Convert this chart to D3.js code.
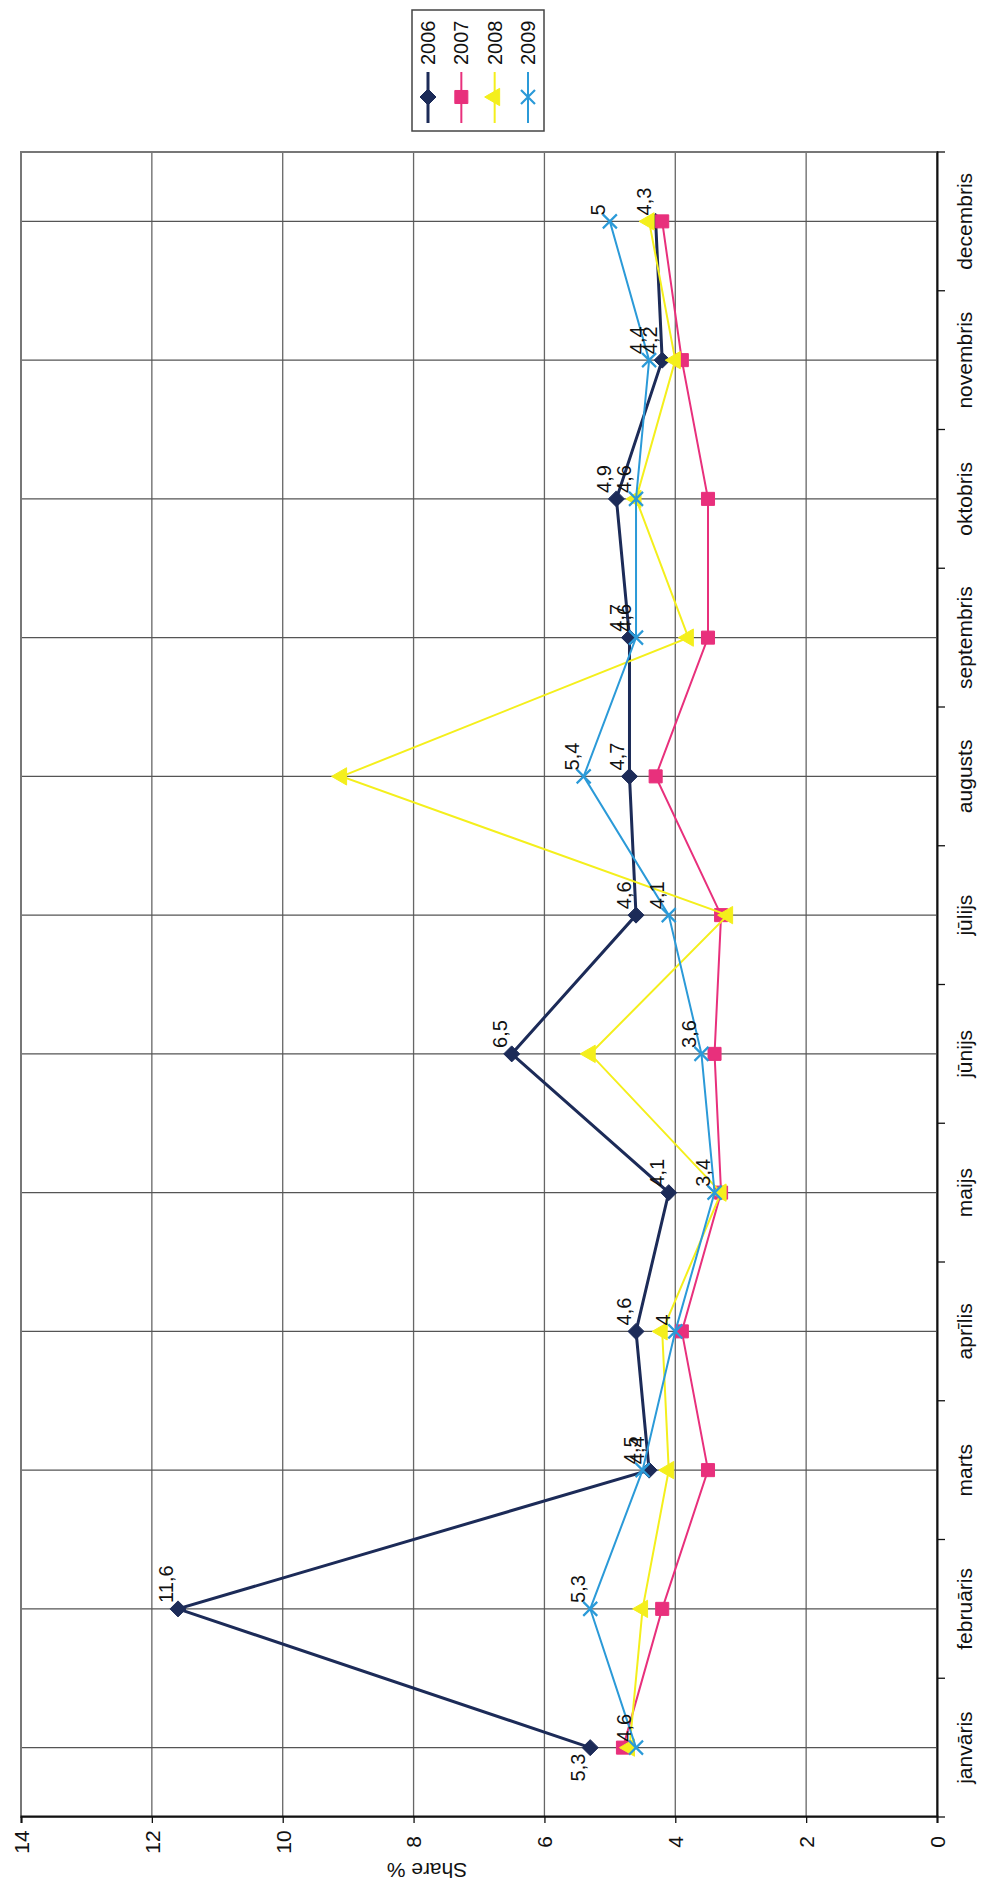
<!DOCTYPE html>
<html>
<head>
<meta charset="utf-8">
<script src="https://cdn.jsdelivr.net/npm/d3@7"></script>
<style>
body { margin: 0; background: #fff; }
text { font-family: "Liberation Sans", Arial, sans-serif; fill: #111; }
</style>
</head>
<body>
<svg id="chart" width="982" height="1891"></svg>
<script>
// Chart data
let months = ['janvāris', 'februāris', 'marts', 'aprīlis', 'maijs', 'jūnijs',
    'jūlijs', 'augusts', 'septembris', 'oktobris', 'novembris', 'decembris'];
let years = ['2006', '2007', '2008', '2009'];
let values2006 = [5.3, 11.6, 4.4, 4.6, 4.1, 6.5, 4.6, 4.7, 4.7, 4.9, 4.2, 4.3];
let values2007 = [4.8, 4.2, 3.5, 3.9, 3.3, 3.4, 3.3, 4.3, 3.5, 3.5, 3.9, 4.2];
let values2008 = [4.7, 4.5, 4.1, 4.2, 3.3, 5.3, 3.2, 9.1, 3.8, 4.6, 4.0, 4.4];
let values2009 = [4.6, 5.3, 4.5, 4.0, 3.4, 3.6, 4.1, 5.4, 4.6, 4.6, 4.4, 5.0];
let labelledYears = ['2006', '2009'];
let valueTicks = [0, 2, 4, 6, 8, 10, 12, 14];
let axisTitle = 'Share %';

let seriesValues = { '2006': values2006, '2007': values2007, '2008': values2008, '2009': values2009 };
let colors = { '2006': '#1c2b58', '2007': '#e8307c', '2008': '#f4ef1c', '2009': '#2b9ad8' };
let widths = { '2006': 3, '2007': 2, '2008': 2, '2009': 2 };

// Plot area on the page (the chart is drawn turned a quarter turn)
let plotLeft = 21, plotRight = 937, plotTop = 152, plotBottom = 1817;
let W = plotBottom - plotTop;
let H = plotRight - plotLeft;

let svg = d3.select('#chart');
let g = svg.append('g')
    .attr('transform', 'translate(' + plotLeft + ',' + plotBottom + ') rotate(-90)');

let x = d3.scaleBand().domain(months).range([0, W]);
let cx = (m) => x(m) + x.bandwidth() / 2;
let y = d3.scaleLinear().domain([0, 14]).range([H, 0]);

// Gridlines
g.selectAll('.vgrid')
    .data(valueTicks.filter((t) => t > 0 && t < 14))
    .enter().append('line')
    .attr('x1', 0).attr('x2', W)
    .attr('y1', (t) => y(t)).attr('y2', (t) => y(t))
    .attr('stroke', '#666').attr('stroke-width', 1.3);

g.selectAll('.cgrid')
    .data(months)
    .enter().append('line')
    .attr('x1', (m) => cx(m)).attr('x2', (m) => cx(m))
    .attr('y1', 0).attr('y2', H)
    .attr('stroke', '#555').attr('stroke-width', 1.3);

// Frame
g.append('rect')
    .attr('x', 0).attr('y', 0).attr('width', W).attr('height', H)
    .attr('fill', 'none').attr('stroke', '#777').attr('stroke-width', 2);

// Value axis
let yAxis = g.append('g')
    .call(d3.axisLeft(y).tickValues(valueTicks).tickFormat(d3.format('d')).tickSize(6));
yAxis.select('.domain').attr('stroke', '#111').attr('stroke-width', 2);
yAxis.selectAll('.tick line').attr('stroke', '#111').attr('stroke-width', 1.3);
yAxis.selectAll('.tick text')
    .attr('x', -25).attr('dy', '0.35em')
    .attr('text-anchor', 'middle')
    .style('font-size', '21px').style('font-family', '"Liberation Sans", Arial, sans-serif')
    .attr('fill', '#111');

// Category axis
let xAxis = g.append('g')
    .attr('transform', 'translate(0,' + H + ')')
    .call(d3.axisBottom(x).tickSize(0));
xAxis.select('.domain').attr('stroke', '#111').attr('stroke-width', 2);
xAxis.selectAll('.tick text')
    .attr('y', 28).attr('dy', '0.35em')
    .style('font-size', '21px').style('font-family', '"Liberation Sans", Arial, sans-serif')
    .attr('fill', '#111');

g.selectAll('.ctick')
    .data(d3.range(months.length + 1))
    .enter().append('line')
    .attr('x1', (i) => i * x.step()).attr('x2', (i) => i * x.step())
    .attr('y1', H).attr('y2', H + 8)
    .attr('stroke', '#111').attr('stroke-width', 1.3);

// Axis title
g.append('text')
    .attr('transform', 'translate(-53,' + (H / 2 - 52) + ') rotate(-90)')
    .attr('text-anchor', 'middle')
    .attr('dy', '0.35em')
    .style('font-size', '21px')
    .text(axisTitle);

// Markers
let markerPath = (year) => {
    if (year === '2006') {
        return 'M0,-8L8,0L0,8L-8,0Z';
    } else if (year === '2007') {
        return d3.symbol(d3.symbolSquare, 170)();
    } else if (year === '2008') {
        return d3.symbol(d3.symbolTriangle, 130)();
    } else {
        return 'M-7,-7L7,7M-7,7L7,-7';
    }
};

let line = d3.line()
    .x((d) => cx(d.month))
    .y((d) => y(d.value));

years.forEach((year) => {
    let points = months.map((m, i) => ({ month: m, value: seriesValues[year][i] }));

    g.append('path')
        .datum(points)
        .attr('d', line)
        .attr('fill', 'none')
        .attr('stroke', colors[year])
        .attr('stroke-width', widths[year]);

    g.selectAll('.marker' + year)
        .data(points)
        .enter().append('path')
        .attr('transform', (d) => 'translate(' + cx(d.month) + ',' + y(d.value) + ')')
        .attr('d', markerPath(year))
        .attr('fill', year === '2009' ? 'none' : colors[year])
        .attr('stroke', colors[year])
        .attr('stroke-width', year === '2009' ? 2.2 : 1);
});

// Data labels
labelledYears.forEach((year) => {
    let points = months.map((m, i) => ({ month: m, value: seriesValues[year][i], index: i }));
    g.selectAll('.label' + year)
        .data(points)
        .enter().append('text')
        .attr('x', (d) => (year === '2006' && d.index === 0) ? cx(d.month) - 6 : cx(d.month) + 6)
        .attr('y', (d) => y(d.value) - 12)
        .attr('dy', '0.35em')
        .attr('text-anchor', (d) => (year === '2006' && d.index === 0) ? 'end' : 'start')
        .style('font-size', '20px')
        .text((d) => String(d.value).replace('.', ','));
});

// Legend
let legend = svg.append('g').attr('transform', 'translate(412,131) rotate(-90)');
legend.append('rect')
    .attr('x', 0).attr('y', 0).attr('width', 121).attr('height', 132)
    .attr('fill', '#fff').attr('stroke', '#444').attr('stroke-width', 1.5);

let legendY = d3.scalePoint().domain(years).range([16, 116]);
years.forEach((year) => {
    let item = legend.append('g').attr('transform', 'translate(0,' + legendY(year) + ')');
    item.append('line')
        .attr('x1', 8).attr('x2', 59).attr('y1', 0).attr('y2', 0)
        .attr('stroke', colors[year]).attr('stroke-width', widths[year]);
    item.append('path')
        .attr('transform', 'translate(34,0)')
        .attr('d', markerPath(year))
        .attr('fill', year === '2009' ? 'none' : colors[year])
        .attr('stroke', colors[year])
        .attr('stroke-width', year === '2009' ? 2.2 : 1);
    item.append('text')
        .attr('x', 66).attr('y', 0).attr('dy', '0.35em')
        .style('font-size', '20px')
        .text(year);
});
</script>
</body>
</html>
